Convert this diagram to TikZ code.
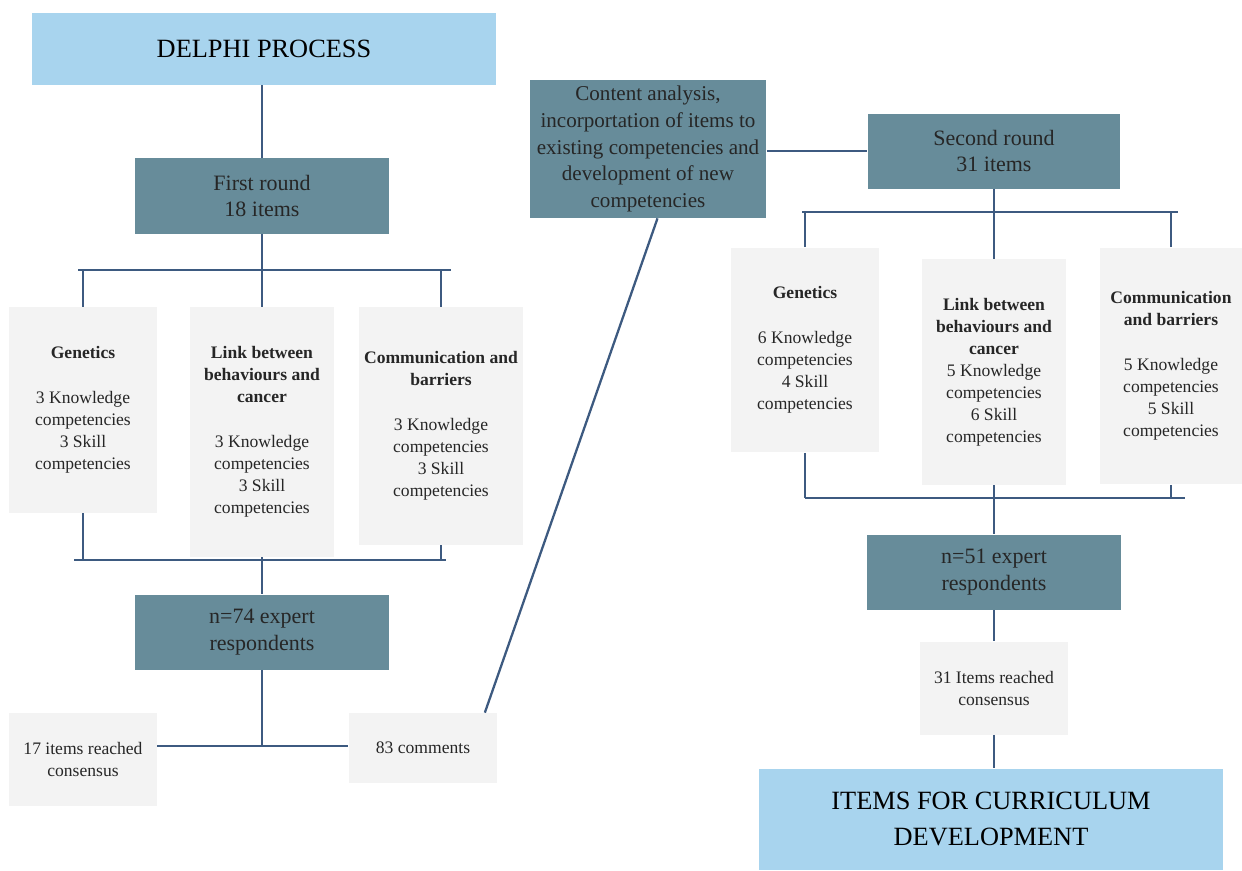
\documentclass[tikz,border=0pt]{standalone}
\usepackage{fontspec}
\setmainfont{Liberation Serif}

\definecolor{headblue}{HTML}{A8D4EE}
\definecolor{roundteal}{HTML}{678C9A}
\definecolor{topicgrey}{HTML}{F3F3F3}
\definecolor{linkblue}{HTML}{3D5A80}

\begin{document}
\begin{tikzpicture}[
  x=0.02cm, y=-0.02cm,
  headbox/.style={fill=headblue, align=center, inner sep=0pt, font=\fontsize{15}{20.4}\selectfont},
  roundbox/.style={fill=roundteal, align=center, inner sep=0pt, text=black!85, font=\fontsize{12.5}{15.3}\selectfont},
  topicbox/.style={fill=topicgrey, align=center, inner sep=0pt, text=black!85, font=\fontsize{10}{12.5}\selectfont},
  bus/.style={draw=linkblue, line width=1.3pt}
]
\useasboundingbox (0,0) rectangle (1242,870);

% Left column: first round
\node[headbox, minimum width=9.28cm, minimum height=1.44cm] (delphi) at (264,49) {DELPHI PROCESS};
\node[roundbox, minimum width=5.08cm, minimum height=1.52cm] (round1) at (262,196) {First round\\18 items};

\node[topicbox, minimum width=2.96cm, minimum height=4.12cm] (gen1) at (83,410)
  {\textbf{Genetics}\\[13pt]3 Knowledge\\competencies\\3 Skill\\competencies};
\node[topicbox, minimum width=2.9cm, minimum height=5.0cm] (link1) at (262,432)
  {\textbf{Link between}\\\textbf{behaviours and}\\\textbf{cancer}\\[13pt]3 Knowledge\\competencies\\3 Skill\\competencies};
\node[topicbox, minimum width=3.3cm, minimum height=4.76cm] (comm1) at (441,426)
  {\textbf{Communication and}\\\textbf{barriers}\\[13pt]3 Knowledge\\competencies\\3 Skill\\competencies};

\node[roundbox, minimum width=5.08cm, minimum height=1.5cm] (resp1) at (262,632) {n=74 expert\\respondents};
\node[topicbox, minimum width=2.96cm, minimum height=1.86cm] (cons1) at (83,759) {17 items reached\\consensus};
\node[topicbox, minimum width=2.98cm, minimum height=1.4cm] (comments) at (423,748) {83 comments};

% Middle: content analysis
\node[roundbox, minimum width=4.74cm, minimum height=2.76cm, font=\fontsize{12}{15.3}\selectfont] (content) at (648,149)
  {Content analysis,\\incorportation of items to\\existing competencies and\\development of new\\competencies};

% Right column: second round
\node[roundbox, minimum width=5.06cm, minimum height=1.5cm] (round2) at (994,151) {Second round\\31 items};

\node[topicbox, minimum width=2.98cm, minimum height=4.1cm] (gen2) at (805,350)
  {\textbf{Genetics}\\[13pt]6 Knowledge\\competencies\\4 Skill\\competencies};
\node[topicbox, minimum width=2.9cm, minimum height=4.52cm] (link2) at (994,372)
  {\textbf{Link between}\\\textbf{behaviours and}\\\textbf{cancer}\\5 Knowledge\\competencies\\6 Skill\\competencies};
\node[topicbox, minimum width=2.84cm, minimum height=4.74cm] (comm2) at (1171,366)
  {\textbf{Communication}\\\textbf{and barriers}\\[13pt]5 Knowledge\\competencies\\5 Skill\\competencies};

\node[roundbox, minimum width=5.08cm, minimum height=1.5cm] (resp2) at (994,572) {n=51 expert\\respondents};
\node[topicbox, minimum width=2.96cm, minimum height=1.86cm] (cons2) at (994,688) {31 Items reached\\consensus};
\node[headbox, minimum width=9.3cm, minimum height=2.02cm] (items) at (991,819) {ITEMS FOR CURRICULUM\\DEVELOPMENT};

% Bus points
\coordinate (b1t) at (78,270);
\coordinate (b1u) at (451,270);
\coordinate (b1b) at (74,560);
\coordinate (b1c) at (446,560);
\coordinate (j1) at (262,746);
\coordinate (b2t) at (802,212);
\coordinate (b2u) at (1178,212);
\coordinate (b2b) at (805,498);
\coordinate (b2c) at (1185,498);

% Left connectors
\draw[bus] (round1.north |- delphi.south) -- (round1.north);
\draw[bus] (round1.south) -- (link1.north);
\draw[bus] (b1t) -- (b1u);
\draw[bus] (gen1.north) -- (gen1.north |- b1t);
\draw[bus] (comm1.north) -- (comm1.north |- b1u);
\draw[bus] (b1b) -- (b1c);
\draw[bus] (gen1.south) -- (gen1.south |- b1b);
\draw[bus] (comm1.south) -- (comm1.south |- b1c);
\draw[bus] (link1.south) -- (resp1.north);
\draw[bus] (resp1.south) -- (j1);
\draw[bus] (j1 -| cons1.east) -- (j1 -| comments.west);

% Feedback to content analysis and second round
\draw[bus] ([xshift=-0.26cm]comments.north east) -- ([xshift=0.19cm]content.south);
\draw[bus] (round2.west -| content.east) -- (round2.west);

% Right connectors
\draw[bus] (round2.south) -- (link2.north);
\draw[bus] (b2t) -- (b2u);
\draw[bus] (gen2.north) -- (gen2.north |- b2t);
\draw[bus] (comm2.north) -- (comm2.north |- b2u);
\draw[bus] (b2b) -- (b2c);
\draw[bus] (gen2.south) -- (gen2.south |- b2b);
\draw[bus] (comm2.south) -- (comm2.south |- b2c);
\draw[bus] (link2.south) -- (resp2.north);
\draw[bus] (resp2.south) -- (cons2.north);
\draw[bus] (cons2.south) -- (cons2.south |- items.north);

\end{tikzpicture}
\end{document}
